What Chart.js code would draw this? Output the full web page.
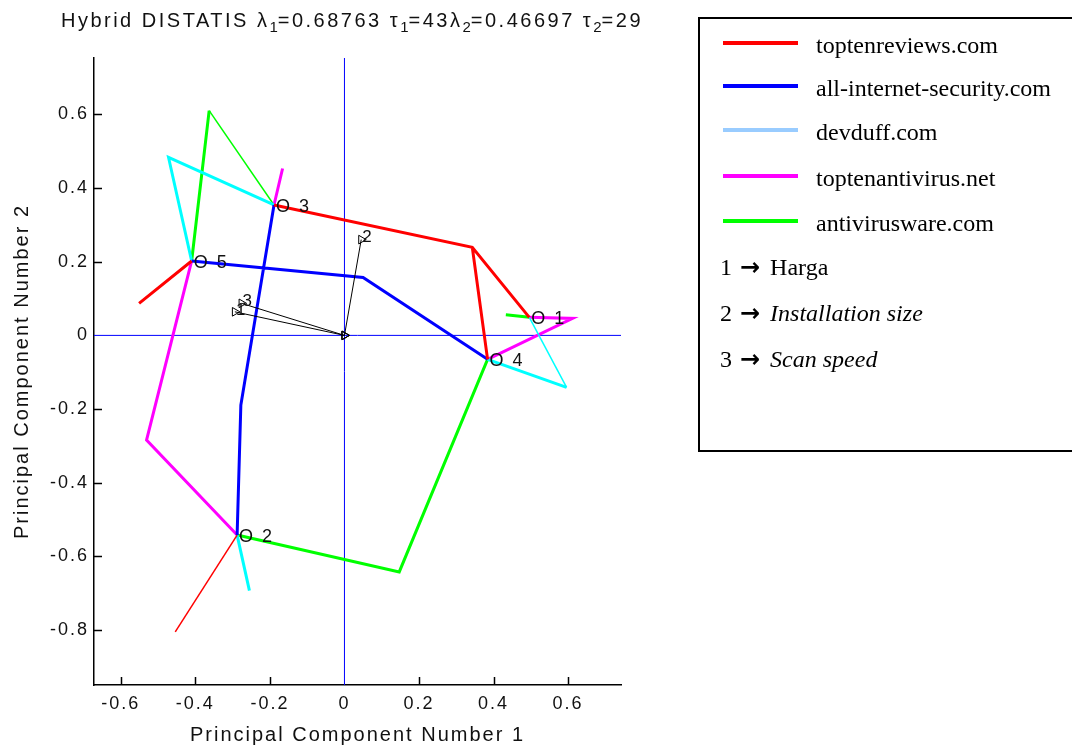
<!DOCTYPE html>
<html lang="en">
<head>
    <meta charset="UTF-8">
    <title>Hybrid DISTATIS</title>
    <style>
        body {
            margin: 0;
            width: 1072px;
            height: 747px;
            overflow: hidden;
            background: #fff;
            position: relative;
            font-family: "Liberation Sans", Arial, sans-serif;
        }
        #chart { position: absolute; left: 0; top: 0; }
        .plot-title {
            position: absolute;
            left: 0;
            width: 704px;
            top: 10px;
            text-align: center;
            font-size: 20px;
            line-height: 20px;
            letter-spacing: 2.5px;
            color: #111;
            white-space: nowrap;
        }
        .plot-title sub { font-size: 15px; vertical-align: -5px; line-height: 0; letter-spacing: 0; }
        .legend-box {
            position: absolute;
            left: 698px;
            top: 17px;
            width: 400px;
            height: 431px;
            border: 2px solid #000;
        }
        .legend-row {
            position: absolute;
            font-family: "Liberation Serif", "Times New Roman", serif;
            font-size: 24px;
            line-height: 24px;
            white-space: nowrap;
            color: #000;
        }
        .swatch { position: absolute; width: 75px; height: 4px; }
        .arrow {
            display: inline-block;
            font-family: "DejaVu Sans", sans-serif;
            font-weight: bold;
            font-size: 24px;
            margin: 0 10px 0 8px;
        }
    </style>
</head>
<body>
    <canvas id="chart" width="1072" height="747"></canvas>
    <div class="plot-title">Hybrid DISTATIS &lambda;<sub>1</sub>=0.68763 &tau;<sub>1</sub>=43&lambda;<sub>2</sub>=0.46697 &tau;<sub>2</sub>=29</div>
    <div class="legend-box" id="legend"></div>
    <script src="https://cdn.jsdelivr.net/npm/chart.js"></script>
    <script>
    // 사이트 이름과 색상
    const siteNames = ['toptenreviews.com', 'all-internet-security.com', 'devduff.com', 'toptenantivirus.net', 'antivirusware.com'];
    const siteColors = ['#FF0000', '#0000FF', '#00FFFF', '#FF00FF', '#00FF00'];
    const legendColors = ['#FF0000', '#0000FF', '#99CCFF', '#FF00FF', '#00FF00'];

    // 각 사이트의 선 (null = 끊김), 굵은 선 / 가는 선
    const redThick = [[-0.551, 0.087], [-0.410, 0.202], null, [-0.189, 0.354], [0.343, 0.239], [0.496, 0.049], null, [0.343, 0.239], [0.384, -0.065]];
    const redThin = [[-0.288, -0.542], [-0.454, -0.805]];
    const blueThick = [[-0.410, 0.202], [0.050, 0.157], [0.384, -0.065], null, [-0.189, 0.354], [-0.278, -0.189], [-0.288, -0.542]];
    const blueThin = [];
    const cyanThick = [[-0.189, 0.354], [-0.472, 0.483], [-0.410, 0.202], null, [0.384, -0.065], [0.596, -0.141], null, [-0.288, -0.542], [-0.255, -0.693]];
    const cyanThin = [[0.596, -0.141], [0.496, 0.049]];
    const magentaThick = [[-0.166, 0.453], [-0.189, 0.354], null, [-0.410, 0.202], [-0.531, -0.284], [-0.288, -0.542], null, [0.496, 0.049], [0.612, 0.046], [0.384, -0.065]];
    const magentaThin = [];
    const greenThick = [[-0.410, 0.202], [-0.363, 0.610], null, [0.433, 0.056], [0.496, 0.049], null, [0.384, -0.065], [0.147, -0.642], [-0.288, -0.542]];
    const greenThin = [[-0.363, 0.610], [-0.189, 0.354]];

    // 대상 (compromise) 좌표
    const objectIds = ['1', '2', '3', '4', '5'];
    const objectX = [0.496, -0.288, -0.189, 0.384, -0.410];
    const objectY = [0.049, -0.542, 0.354, -0.065, 0.202];

    // 변수 화살표 끝점
    const variableIds = ['1', '2', '3'];
    const variableX = [-0.294, 0.045, -0.276];
    const variableY = [0.064, 0.260, 0.087];
    const variableNames = ['Harga', 'Installation size', 'Scan speed'];
    const variableItalic = [false, true, true];

    // 축 범위, 눈금
    const xRange = [-0.672, 0.742];
    const yRange = [-0.949, 0.753];
    const tickStep = 0.2;

    const axisFont = '"Liberation Sans", Arial, sans-serif';

    function toPoints(list) {
        return list.map(function (p) { return p ? { x: p[0], y: p[1] } : { x: null, y: null }; });
    }

    const thickSets = [redThick, blueThick, cyanThick, magentaThick, greenThick];
    const thinSets = [redThin, blueThin, cyanThin, magentaThin, greenThin];

    const datasets = [];
    // 원점을 지나는 파란 축선
    datasets.push({ label: 'x0', data: toPoints([[xRange[0], 0], [xRange[1], 0]]), borderColor: '#0000FF', borderWidth: 1, showLine: true, pointRadius: 0, order: 10 });
    datasets.push({ label: 'y0', data: toPoints([[0, yRange[0]], [0, yRange[1]]]), borderColor: '#0000FF', borderWidth: 1, showLine: true, pointRadius: 0, order: 10 });

    thickSets.forEach(function (list, i) {
        datasets.push({ label: siteNames[i], data: toPoints(list), borderColor: siteColors[i], borderWidth: 3, showLine: true, pointRadius: 0, order: 5 });
        if (thinSets[i].length) {
            datasets.push({ label: siteNames[i] + ' (thin)', data: toPoints(thinSets[i]), borderColor: siteColors[i], borderWidth: 1.5, showLine: true, pointRadius: 0, order: 5 });
        }
    });

    // 원점 -> 변수 화살표
    const arrowData = [];
    variableX.forEach(function (vx, i) {
        arrowData.push([0, 0], [vx, variableY[i]], null);
    });
    datasets.push({
        label: 'variables',
        data: toPoints(arrowData),
        borderColor: '#000',
        borderWidth: 1,
        showLine: true,
        pointStyle: 'triangle',
        rotation: 90,
        pointRadius: 5,
        pointBorderColor: '#000',
        pointBorderWidth: 1,
        pointBackgroundColor: 'rgba(0,0,0,0)',
        order: 1
    });

    // 글자 간격 (MATLAB 느낌)
    const spacingPlugin = {
        id: 'spacing',
        beforeUpdate(chart) { chart.ctx.letterSpacing = '2px'; },
        beforeDraw(chart) { chart.ctx.letterSpacing = '2px'; }
    };

    // 안쪽 눈금 + 텍스트 라벨
    const annotatePlugin = {
        id: 'annotate',
        afterDatasetsDraw(chart) {
            const ctx = chart.ctx;
            const xs = chart.scales.x, ys = chart.scales.y;
            const area = chart.chartArea;
            ctx.save();
            ctx.strokeStyle = '#000';
            ctx.lineWidth = 1.5;
            ctx.beginPath();
            xs.ticks.forEach(function (t) {
                if (Math.abs(t.value) < 1e-9) return;
                const px = Math.round(xs.getPixelForValue(t.value)) + 0.5;
                ctx.moveTo(px, area.bottom);
                ctx.lineTo(px, area.bottom - 8);
            });
            ys.ticks.forEach(function (t) {
                if (Math.abs(t.value) < 1e-9) return;
                const py = Math.round(ys.getPixelForValue(t.value)) + 0.5;
                ctx.moveTo(area.left, py);
                ctx.lineTo(area.left + 8, py);
            });
            ctx.stroke();

            ctx.fillStyle = '#111';
            ctx.letterSpacing = '2px';
            ctx.font = '18px ' + axisFont;
            ctx.textAlign = 'left';
            ctx.textBaseline = 'middle';
            objectIds.forEach(function (id, i) {
                ctx.fillText('O ' + id, xs.getPixelForValue(objectX[i]) + 2, ys.getPixelForValue(objectY[i]) + 2);
            });
            ctx.font = '17px ' + axisFont;
            variableIds.forEach(function (id, i) {
                ctx.fillText(id, xs.getPixelForValue(variableX[i]) + 1, ys.getPixelForValue(variableY[i]) - 2);
            });
            ctx.restore();
        }
    };

    function fmt(v) {
        const r = Math.round(v * 10) / 10;
        return r === 0 ? '0' : String(r);
    }

    new Chart(document.getElementById('chart').getContext('2d'), {
        type: 'scatter',
        data: { datasets: datasets },
        options: {
            responsive: false,
            animation: false,
            layout: { padding: { left: 0, right: 451, top: 58, bottom: 0 } },
            plugins: { legend: { display: false }, tooltip: { enabled: false } },
            scales: {
                x: {
                    type: 'linear',
                    min: xRange[0],
                    max: xRange[1],
                    afterFit: function (s) { s.height = 62; },
                    ticks: { stepSize: tickStep, includeBounds: false, padding: 8, color: '#111', font: { size: 18, family: axisFont }, callback: fmt, maxRotation: 0 },
                    grid: { display: false, drawTicks: false },
                    border: { display: true, color: '#000', width: 1.5 },
                    title: { display: true, text: 'Principal Component Number 1', color: '#111', font: { size: 20, family: axisFont }, padding: { top: 0, bottom: 0 } }
                },
                y: {
                    type: 'linear',
                    min: yRange[0],
                    max: yRange[1],
                    afterFit: function (s) { s.width = 94; },
                    ticks: { stepSize: tickStep, includeBounds: false, padding: 5, color: '#111', font: { size: 18, family: axisFont }, callback: fmt },
                    grid: { display: false, drawTicks: false },
                    border: { display: true, color: '#000', width: 1.5 },
                    title: { display: true, text: 'Principal Component Number 2', color: '#111', font: { size: 20, family: axisFont }, padding: { top: 10, bottom: 0 } }
                }
            }
        },
        plugins: [spacingPlugin, annotatePlugin]
    });

    // 오른쪽 범례 박스
    const legend = document.getElementById('legend');
    const rowCenters = [24, 67, 111, 157, 202];
    siteNames.forEach(function (name, i) {
        const sw = document.createElement('div');
        sw.className = 'swatch';
        sw.style.left = '23px';
        sw.style.top = (rowCenters[i] - 2) + 'px';
        sw.style.background = legendColors[i];
        legend.appendChild(sw);
        const txt = document.createElement('div');
        txt.className = 'legend-row';
        txt.style.left = '116px';
        txt.style.top = (rowCenters[i] - 10) + 'px';
        txt.textContent = name;
        legend.appendChild(txt);
    });
    const varRowTops = [236, 282, 328];
    variableIds.forEach(function (id, i) {
        const row = document.createElement('div');
        row.className = 'legend-row';
        row.style.left = '20px';
        row.style.top = varRowTops[i] + 'px';
        row.innerHTML = id + '<span class="arrow">\u2192</span>' +
            (variableItalic[i] ? '<i>' + variableNames[i] + '</i>' : variableNames[i]);
        legend.appendChild(row);
    });
    </script>
</body>
</html>
